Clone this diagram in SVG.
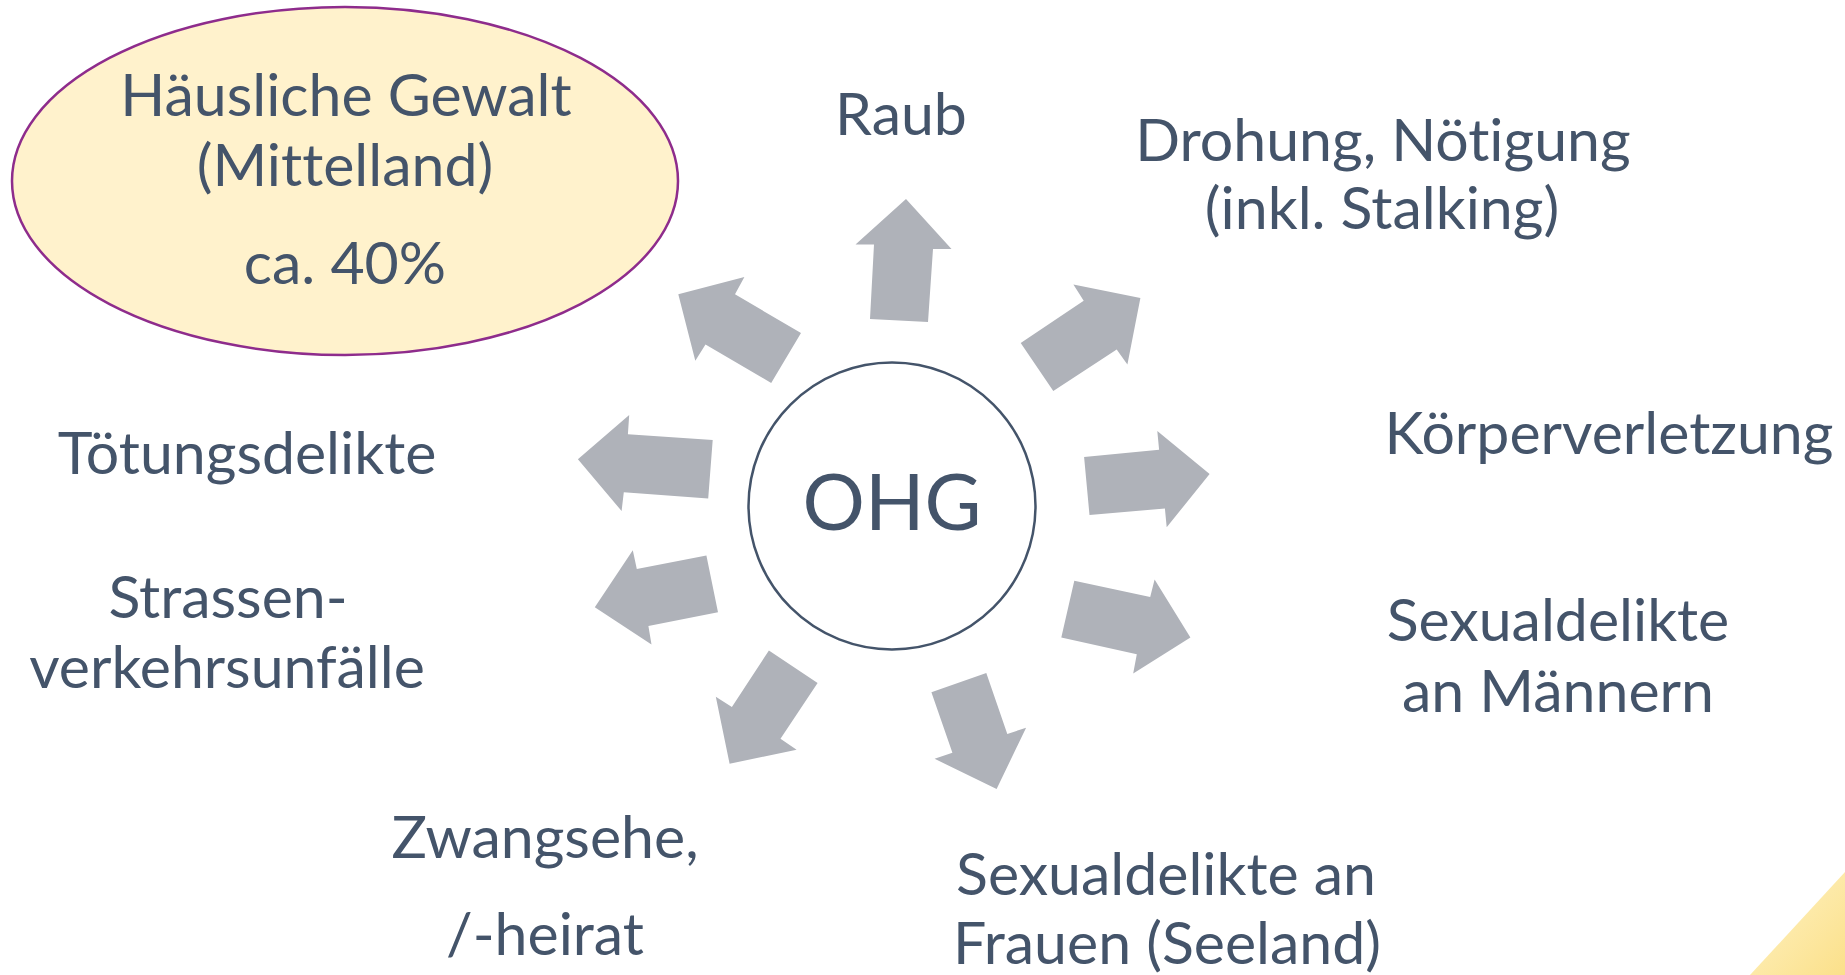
<svg xmlns="http://www.w3.org/2000/svg" width="1845" height="975" viewBox="0 0 1845 975">
<defs>
<style>
.t{font-family:Lato,"Liberation Sans",sans-serif;font-size:59px;fill:#44546A;text-anchor:middle;font-variant-ligatures:none;font-feature-settings:"liga" 0}
.a{fill:#AFB2B9}
</style>
<linearGradient id="yg" x1="0" y1="0" x2="1" y2="1">
<stop offset="0" stop-color="#FFF3C6"/>
<stop offset="1" stop-color="#FBE08A"/>
</linearGradient>
</defs>
<rect width="1845" height="975" fill="#FFFFFF"/>
<polygon points="1845,872 1750,975 1845,975" fill="url(#yg)"/>

<g id="connectors">
<polygon class="a" points="906,199 951.5,249 933,249 928,322 870,319 874,244.5 855.5,244.5"/>
<polygon class="a" points="678.3,294.3 744.4,277.1 735,294.3 801,333 771.2,382.9 705.5,344.5 695.3,360.8"/>
<polygon class="a" points="1140.4,298 1127.4,364.5 1116.7,349.4 1053.3,391 1020.7,342.9 1083.7,300.8 1073.4,284.5"/>
<polygon class="a" points="1209.6,473.9 1166.7,527.3 1164.9,508.6 1089.5,515.1 1084.1,457.1 1159.1,449.8 1157.3,431"/>
<polygon class="a" points="1190.4,637.6 1133.2,673.5 1136.8,654.3 1061.3,637.6 1074.3,580.8 1150.2,597.1 1154.6,579.6"/>
<polygon class="a" points="996.6,789 934.6,758.8 952.4,752.7 931.4,692.2 986.3,673.1 1007.3,733.9 1026.1,727.8"/>
<polygon class="a" points="729.6,763.7 715.8,696.7 731.9,706.9 768.9,650.6 817.6,682.9 780.5,738.8 796.6,749.8"/>
<polygon class="a" points="594.8,607.3 632.8,550.2 636.8,569 706.4,555.5 718,612.2 648.4,626.1 651.5,644.5"/>
<polygon class="a" points="577.9,459.2 629.2,415.1 627.9,434.3 712.7,440 708.2,498.4 623.8,492.2 621.6,511"/>
</g>

<g id="hg">
<ellipse cx="345" cy="181" rx="333" ry="174" fill="#FFF2CC" stroke="#8E2C8C" stroke-width="2.5"/>
<text class="t" x="346" y="116">Häusliche Gewalt</text>
<text class="t" x="345" y="186">(Mittelland)</text>
<text class="t" x="345" y="284">ca. 40%</text>
</g>

<g id="ohg">
<circle cx="892" cy="506" r="143.5" fill="#FFFFFF" stroke="#44546A" stroke-width="2.5"/>
<text class="t" x="892" y="530" style="font-size:78px">OHG</text>
</g>

<g id="raub"><text class="t" x="901" y="135">Raub</text></g>
<g id="drohung">
<text class="t" x="1383" y="161">Drohung, Nötigung</text>
<text class="t" x="1382" y="229">(inkl. Stalking)</text>
</g>
<g id="koerper"><text class="t" x="1609" y="454">Körperverletzung</text></g>
<g id="sexm">
<text class="t" x="1558" y="641">Sexualdelikte</text>
<text class="t" x="1558" y="712">an Männern</text>
</g>
<g id="sexf">
<text class="t" x="1166" y="895">Sexualdelikte an</text>
<text class="t" x="1167" y="964">Frauen (Seeland)</text>
</g>
<g id="zwang">
<text class="t" x="545" y="858">Zwangsehe,</text>
<text class="t" x="545" y="955">/-heirat</text>
</g>
<g id="toetung"><text class="t" x="247" y="474">Tötungsdelikte</text></g>
<g id="strasse">
<text class="t" x="228" y="618">Strassen-</text>
<text class="t" x="227" y="688">verkehrsunfälle</text>
</g>
</svg>
